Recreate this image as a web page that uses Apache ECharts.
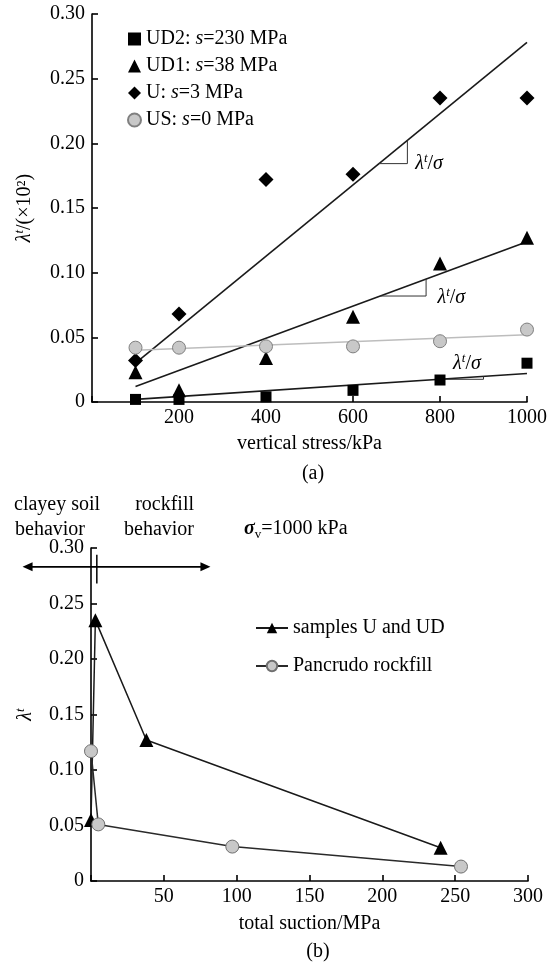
<!DOCTYPE html>
<html><head><meta charset="utf-8">
<script src="https://cdn.jsdelivr.net/npm/echarts@6/dist/echarts.min.js"></script>
<style>html,body{margin:0;padding:0;background:#fff}#c{width:550px;height:966px}</style>
</head><body><div id="c"></div>
<script>
// ---- data: panel (a) ----
const stress = [100, 200, 400, 600, 800, 1000];
const lamUD2 = [0.002, 0.002, 0.004, 0.009, 0.017, 0.030];
const lamUD1 = [0.023, 0.009, 0.034, 0.066, 0.107, 0.127];
const lamU   = [0.032, 0.068, 0.172, 0.176, 0.235, 0.235];
const lamUS  = [0.042, 0.042, 0.043, 0.043, 0.047, 0.056];
const seriesNames = ['UD2', 'UD1', 'U', 'US'];
const seriesSuction = ['230', '38', '3', '0'];
// fitted lines (values at stress 100 and 1000)
const fitX = [100, 1000];
const fitUD2 = [0.002, 0.022];
const fitUD1 = [0.012, 0.124];
const fitU   = [0.030, 0.278];
const fitUS  = [0.040, 0.052];
// slope-triangle stress spans
const slopeU = [660, 725];
const slopeUD1 = [662, 768];
const slopeUD2 = [800, 900];
// slope label anchors [stress, lambda]
const labU = [775, 0.185];
const labUD1 = [826, 0.081];
const labUD2 = [862, 0.030];
// ---- data: panel (b) ----
const suctionUD = [0, 3, 38, 240];
const lambdaUD  = [0.055, 0.235, 0.127, 0.030];
const suctionPR = [0, 5, 97, 254];
const lambdaPR  = [0.117, 0.051, 0.031, 0.013];
// annotation anchors in panel (b) data space
const arrowSpan = [-47, 82], arrowLevel = 0.283;
const boundaryX = 4, boundarySpan = [0.268, 0.294];

const F = 'Liberation Serif';
const FS = 20;
const INK = '#000';
const zip = (a, b) => a.map((v, i) => [v, b[i]]);
const fitAt = (fit, x) => fit[0] + (fit[1] - fit[0]) * (x - fitX[0]) / (fitX[1] - fitX[0]);
const tri = (fit, span) => [[span[0], fitAt(fit, span[0])], [span[1], fitAt(fit, span[0])], [span[1], fitAt(fit, span[1])]];

const chart = echarts.init(document.getElementById('c'), null, {renderer: 'canvas'});

const axisCommon = {
  axisLine: {show: true, onZero: false, lineStyle: {color: INK, width: 1.6}},
  axisTick: {show: true, inside: true, length: 6, lineStyle: {color: INK, width: 1.6}},
  splitLine: {show: false},
  nameTextStyle: {fontFamily: F, fontSize: FS, color: INK}
};
const yFmt = v => v === 0 ? '0' : v.toFixed(2);
const supRich = {
  l: {fontFamily: F, fontSize: FS, fontStyle: 'italic', color: INK, lineHeight: 22, verticalAlign: 'bottom'},
  s: {fontFamily: F, fontSize: 13, fontStyle: 'italic', color: INK, lineHeight: 22, verticalAlign: 'top'},
  n: {fontFamily: F, fontSize: FS, color: INK, lineHeight: 22, verticalAlign: 'bottom'}
};

const markerStyles = {
  UD2: {symbol: 'rect', symbolSize: 11, itemStyle: {color: INK, opacity: 1}},
  UD1: {symbol: 'triangle', symbolSize: 14, itemStyle: {color: INK, opacity: 1}},
  U:   {symbol: 'diamond', symbolSize: 15, itemStyle: {color: INK, opacity: 1}},
  US:  {symbol: 'circle', symbolSize: 13, itemStyle: {color: '#c8c8c8', borderColor: '#808080', borderWidth: 1, opacity: 1}}
};
const seriesData = {UD2: lamUD2, UD1: lamUD1, U: lamU, US: lamUS};
const fits = {UD2: fitUD2, UD1: fitUD1, U: fitU, US: fitUS};

const series = [];
seriesNames.forEach(n => {
  series.push({
    type: 'line', xAxisIndex: 0, yAxisIndex: 0, symbol: 'none', silent: true,
    data: zip(fitX, fits[n]),
    lineStyle: {color: n === 'US' ? '#bdbdbd' : '#1a1a1a', width: 1.6}, z: 2
  });
});
[[fitU, slopeU], [fitUD1, slopeUD1], [fitUD2, slopeUD2]].forEach(([f, s]) => {
  series.push({type: 'line', xAxisIndex: 0, yAxisIndex: 0, symbol: 'none', silent: true,
    data: tri(f, s), lineStyle: {color: '#333', width: 1}, z: 2});
});
[labU, labUD1, labUD2].forEach(p => {
  series.push({type: 'scatter', xAxisIndex: 0, yAxisIndex: 0, symbolSize: 0, silent: true,
    itemStyle: {opacity: 1},
    data: [p],
    label: {show: true, position: 'inside', formatter: '{l|λ}{s|t}{n|/}{l|σ}', rich: supRich}, z: 5});
});
seriesNames.forEach(n => {
  series.push(Object.assign({
    name: n, type: 'scatter', xAxisIndex: 0, yAxisIndex: 0,
    data: zip(stress, seriesData[n]), z: 4
  }, markerStyles[n]));
});
series.push({
  name: 'samples U and UD', type: 'line', xAxisIndex: 1, yAxisIndex: 1,
  data: zip(suctionUD, lambdaUD), symbol: 'triangle', symbolSize: 14,
  lineStyle: {color: '#1a1a1a', width: 1.5}, itemStyle: {color: INK}, clip: false, z: 3
});
series.push({
  name: 'Pancrudo rockfill', type: 'line', xAxisIndex: 1, yAxisIndex: 1,
  data: zip(suctionPR, lambdaPR), symbol: 'circle', symbolSize: 13,
  lineStyle: {color: '#2a2a2a', width: 1.5}, itemStyle: {color: '#c8c8c8', borderColor: '#707070', borderWidth: 1}, clip: false, z: 3
});

const legendLabel = {};
seriesNames.forEach((n, i) => legendLabel[n] = n + ': {i|s}=' + seriesSuction[i] + ' MPa');

chart.setOption({
  animation: false,
  backgroundColor: '#fff',
  grid: [
    {left: 92, top: 14, width: 437, height: 388, containLabel: false},
    {left: 91, top: 548, width: 437, height: 333, containLabel: false}
  ],
  legend: [
    {
      data: seriesNames, orient: 'vertical', left: 122, top: 24, itemGap: 7,
      itemWidth: 13, itemHeight: 13, selectedMode: false,
      formatter: n => legendLabel[n],
      textStyle: {fontFamily: F, fontSize: FS, color: INK, rich: {i: {fontFamily: F, fontSize: FS, fontStyle: 'italic', color: INK}}}
    },
    {
      data: ['samples U and UD', 'Pancrudo rockfill'], orient: 'vertical', left: 250, top: 613, itemGap: 18,
      itemWidth: 32, itemHeight: 13, selectedMode: false,
      textStyle: {fontFamily: F, fontSize: FS, color: INK}
    }
  ],
  xAxis: [
    Object.assign({}, axisCommon, {
      gridIndex: 0, type: 'value', min: 0, max: 1000, interval: 200,
      name: 'vertical stress/kPa', nameLocation: 'middle', nameGap: 32,
      axisLabel: {fontFamily: F, fontSize: FS, color: INK, margin: 6, formatter: v => v === 0 ? '' : String(v)}
    }),
    Object.assign({}, axisCommon, {
      gridIndex: 1, type: 'value', min: 0, max: 300, interval: 50,
      name: 'total suction/MPa', nameLocation: 'middle', nameGap: 33,
      axisLabel: {fontFamily: F, fontSize: FS, color: INK, margin: 6, formatter: v => v === 0 ? '' : String(v)}
    })
  ],
  yAxis: [
    Object.assign({}, axisCommon, {
      gridIndex: 0, type: 'value', min: 0, max: 0.30, interval: 0.05,
      name: '{l|λ}{s|t}{n|/(×10²)}', nameLocation: 'middle', nameGap: 57,
      nameTextStyle: {rich: supRich},
      axisLabel: {fontFamily: F, fontSize: FS, color: INK, margin: 7, formatter: yFmt}
    }),
    Object.assign({}, axisCommon, {
      gridIndex: 1, type: 'value', min: 0, max: 0.30, interval: 0.05,
      name: '{l|λ}{s|t}', nameLocation: 'middle', nameGap: 55,
      nameTextStyle: {rich: supRich},
      axisLabel: {fontFamily: F, fontSize: FS, color: INK, margin: 7, formatter: yFmt}
    })
  ],
  series: series
});

const px = p => chart.convertToPixel({xAxisIndex: 1, yAxisIndex: 1}, p);
const aL = px([arrowSpan[0], arrowLevel]), aR = px([arrowSpan[1], arrowLevel]);
const bT = px([boundaryX, boundarySpan[1]]), bB = px([boundaryX, boundarySpan[0]]);
const ah = 10, aw = 4.5;
const txt = (x, y, text, align) => ({type: 'text', x: x, y: y,
  style: {text: text, fontFamily: F, fontSize: FS, fill: INK, align: align || 'left', verticalAlign: 'middle'}});
chart.setOption({
  graphic: [
    {type: 'line', shape: {x1: aL[0] + 4, y1: aL[1], x2: aR[0] - 4, y2: aR[1]}, style: {stroke: INK, lineWidth: 1.6}},
    {type: 'polygon', shape: {points: [[aL[0], aL[1]], [aL[0] + ah, aL[1] - aw], [aL[0] + ah, aL[1] + aw]]}, style: {fill: INK}},
    {type: 'polygon', shape: {points: [[aR[0], aR[1]], [aR[0] - ah, aR[1] - aw], [aR[0] - ah, aR[1] + aw]]}, style: {fill: INK}},
    {type: 'line', shape: {x1: bT[0], y1: bT[1], x2: bB[0], y2: bB[1]}, style: {stroke: INK, lineWidth: 1.5}},
    txt(14, 505, 'clayey soil'),
    txt(15, 530, 'behavior'),
    txt(194, 505, 'rockfill', 'right'),
    txt(194, 530, 'behavior', 'right'),
    {type: 'text', x: 244, y: 530, style: {
      text: '{g|σ}{v|v}{n|=1000 kPa}', verticalAlign: 'middle',
      rich: {
        g: {fontFamily: F, fontSize: FS, fontStyle: 'italic', fontWeight: 'bold', fill: INK, lineHeight: 22, verticalAlign: 'top'},
        v: {fontFamily: F, fontSize: 13, fill: INK, lineHeight: 22, verticalAlign: 'bottom'},
        n: {fontFamily: F, fontSize: FS, fill: INK, lineHeight: 22, verticalAlign: 'top'}
      }}},
    txt(313, 474, '(a)', 'center'),
    txt(318, 952, '(b)', 'center')
  ]
});
</script>
</body></html>
